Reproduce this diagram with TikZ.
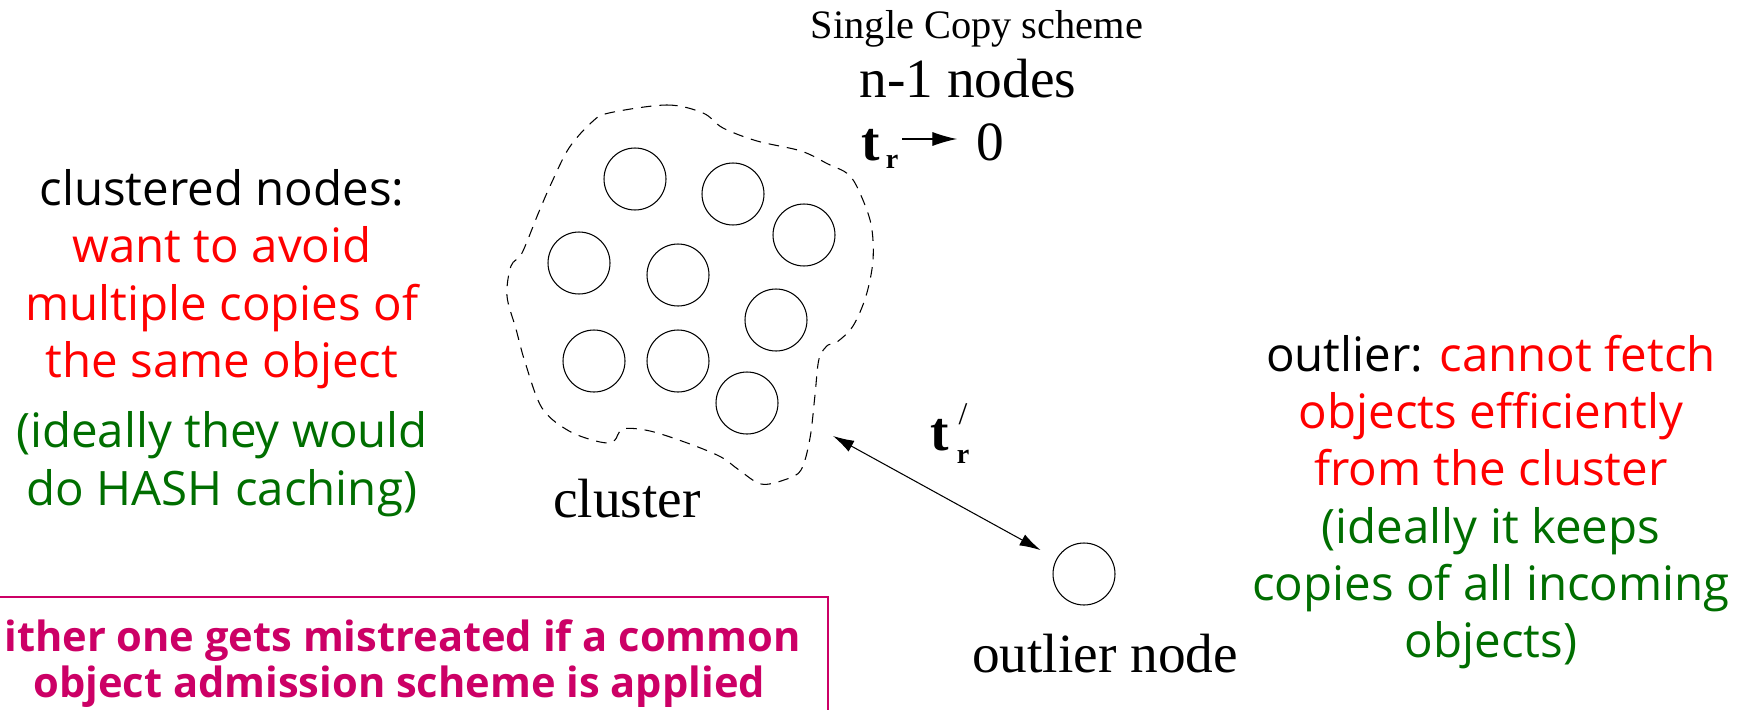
\documentclass[tikz,border=0pt]{standalone}
\usepackage{fontspec}
\setmainfont{Liberation Serif}
\newfontfamily\comicfont{Open Sans}
\usetikzlibrary{arrows.meta, positioning}
\definecolor{myred}{RGB}{255,0,0}
\definecolor{mygreen}{RGB}{0,110,0}
\definecolor{mypink}{RGB}{204,0,102}
\tikzset{
  peer/.style={circle, draw, minimum size=1.24cm, inner sep=0pt, line width=0.6pt},
  bigtxt/.style={font=\fontsize{31.5}{36}\selectfont, inner sep=0pt, anchor=base},
  note/.style={font=\comicfont\fontsize{27}{32.6}\selectfont, align=center, inner sep=0pt},
  warn/.style={font=\comicfont\bfseries\fontsize{23.7}{26}\selectfont, text=mypink,
    inner sep=0pt, anchor=base west},
  arrow/.style={{Latex[length=12pt,width=7pt]}-{Latex[length=12pt,width=7pt]}, line width=0.6pt},
  blob/.style={dash pattern=on 6pt off 4.5pt, line width=0.6pt}
}
\newcommand{\rd}[1]{\textcolor{myred}{#1}}
\newcommand{\gr}[1]{\textcolor{mygreen}{#1}}

\begin{document}
\begin{tikzpicture}[x=0.02cm, y=-0.02cm]
  \useasboundingbox (0,0) rectangle (1745,710);

  % cluster outline
  \draw[blob] plot[smooth cycle, tension=0.55] coordinates {
    (609,113) (667,105) (703,113) (723,128) (757,141) (801,151) (828,164)
    (848,174) (859,191) (871,224) (873,260) (866,296) (853,326) (837,342)
    (828,345) (819,359) (815,395) (810,438) (801,470) (784,480) (761,484)
    (739,470) (721,457) (690,444) (650,431) (623,429) (614,441) (600,442)
    (569,431) (542,408) (525,362) (516,329) (507,296) (511,266) (522,253)
    (538,214) (551,184) (569,148) (592,122)};
  \coordinate (edge) at (833,436);

  % nodes of the cluster
  \foreach \i/\px/\py in {1/635/179, 2/733/194, 3/804/235, 4/579/263, 5/678/275,
                          6/776/320, 7/594/361, 8/678/361, 9/747/403}
    \node[peer] (p\i) at (\px,\py) {};

  \node[peer] (outl) at (1084,574) {};
  \draw[arrow, shorten >=0.36cm] (edge) -- (outl);

  \node[font=\fontsize{23}{26}\selectfont, inner sep=0pt, anchor=base] (scheme) at (977,38) {Single Copy scheme};
  \node[bigtxt] (nodes) at (968,97) {n-1 nodes};
  \node[bigtxt, font=\bfseries\fontsize{31.5}{36}\selectfont] (tr) at (871,160) {t};
  \node[inner sep=0pt, anchor=base, font=\bfseries\fontsize{16}{18}\selectfont] (trsub) at (892,168) {r};
  \node[bigtxt] (zero) at (990,160) {0};
  \draw[-{Latex[length=14pt,width=8pt]}, line width=0.6pt] (902,139) -- (957,139);

  \node[bigtxt, font=\bfseries\fontsize{31.5}{36}\selectfont] (tp) at (940,450) {t};
  \node[inner sep=0pt, anchor=base, font=\bfseries\fontsize{16}{18}\selectfont] (tpsub) at (963,463) {r};
  \node[inner sep=0pt, font=\fontsize{18}{20}\selectfont] (tpprime) at (963,414) {/};

  \node[bigtxt] (clname) at (627,517) {cluster};
  \node[bigtxt] (oname) at (1105,672) {outlier node};

  \node[note] (clnote) at (222,343) {clustered nodes:\\
    \rd{want to avoid}\\\rd{multiple copies of}\\\rd{the same object}\\[0.26cm]
    \gr{(ideally they would}\\\gr{do HASH caching)}};

  \node[note] (onote) at (1491,502) {outlier: \rd{cannot fetch}\\
    \rd{objects efficiently}\\\rd{from the cluster}\\
    \gr{(ideally it keeps}\\\gr{copies of all incoming}\\\gr{objects)}};

  % warning box
  \draw[mypink, line width=0.9pt, fill=white] (-10,597) rectangle (828,730);
  \node[warn] (warn1) at (4,651) {ither one gets mistreated if a common};
  \node[warn] (warn2) at (33,697) {object admission scheme is applied};
\end{tikzpicture}
\end{document}
